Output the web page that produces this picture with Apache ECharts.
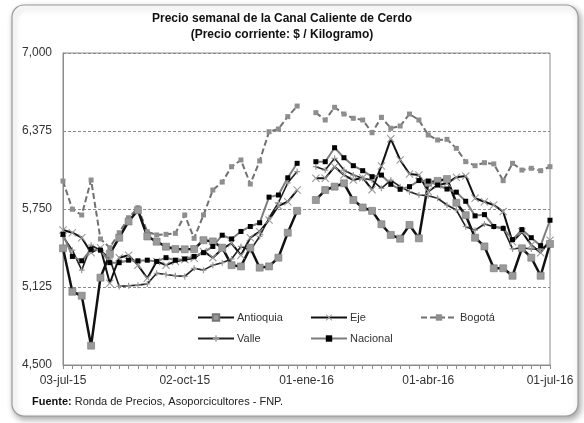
<!DOCTYPE html>
<html>
<head>
<meta charset="utf-8">
<script src="https://cdn.jsdelivr.net/npm/echarts@6/dist/echarts.min.js"></script>
<style>
html,body{margin:0;padding:0;background:#fff;}
#main{width:584px;height:423px;}
</style>
</head>
<body>
<div id="main"></div>
<script>
// semanas (viernes) del 03-jul-15 al 01-jul-16
var semanas = ["03-jul-15","10-jul-15","17-jul-15","24-jul-15","31-jul-15","07-ago-15","14-ago-15","21-ago-15","28-ago-15",
  "04-sep-15","11-sep-15","18-sep-15","25-sep-15","02-oct-15","09-oct-15","16-oct-15","23-oct-15","30-oct-15",
  "06-nov-15","13-nov-15","20-nov-15","27-nov-15","04-dic-15","11-dic-15","18-dic-15","25-dic-15",
  "01-ene-16","08-ene-16","15-ene-16","22-ene-16","29-ene-16","05-feb-16","12-feb-16","19-feb-16","26-feb-16",
  "04-mar-16","11-mar-16","18-mar-16","25-mar-16","01-abr-16","08-abr-16","15-abr-16","22-abr-16","29-abr-16",
  "06-may-16","13-may-16","20-may-16","27-may-16","03-jun-16","10-jun-16","17-jun-16","24-jun-16","01-jul-16"];

var antioquia = [5435,5087,5055,4655,5200,5390,5520,5650,5740,5530,5488,5448,5429,5427,5429,5500,5490,5440,5300,5290,5440,5280,5290,5360,5560,5735,
  null,5822,5902,5929,5956,5822,5762,5735,5628,5542,5512,5622,5515,5960,5975,5990,5800,5700,5520,5450,5275,5275,5215,5435,5360,5215,5470];
var eje = [5582,5560,5520,5400,5440,5155,5360,5380,5300,5195,5330,5300,5330,5345,5355,5410,5360,5430,5475,5380,5520,5568,5662,5775,5808,5902,
  null,5996,5996,6089,6022,5982,6001,5905,6095,6312,6143,6030,6022,5890,5942,5956,6005,6015,5836,5808,5782,5729,5488,5568,5461,5400,5500];
var bogota = [5974,5748,5702,5982,5510,5440,5560,5680,5760,5568,5542,5547,5555,5702,5515,5702,5902,5966,6089,6143,5950,6135,6369,6391,6490,6575,
  null,6522,6463,6565,6511,6477,6463,6361,6485,6397,6415,6511,6463,6343,6303,6308,6236,6129,6097,6121,6111,5977,6116,6062,6076,6057,6089];
var valle = [5530,5420,5260,5460,5420,5350,5130,5135,5140,5150,5235,5225,5215,5210,5275,5260,5300,5320,5350,5450,5420,5530,5680,5800,5960,6050,
  null,6089,6062,6156,6062,6022,5996,5982,5916,5982,5929,5889,5862,5857,5836,5782,5742,5608,5580,5630,5608,5595,5430,5440,5430,5429,5475];
var nacional = [5547,5370,5335,5427,5420,5320,5320,5340,5335,5340,5330,5360,5340,5350,5370,5400,5450,5540,5510,5570,5610,5640,5845,5862,6000,6116,
  null,6129,6129,6241,6161,6097,6057,6009,6022,5948,5908,5929,5978,5974,5942,5910,5885,5812,5695,5705,5610,5595,5505,5585,5520,5456,5660];

var xMark = 'path://M0,1L1,0L5,4L9,0L10,1L6,5L10,9L9,10L5,6L1,10L0,9L4,5Z';
var plusMark = 'path://M4,0L6,0L6,4L10,4L10,6L6,6L6,10L4,10L4,6L0,6L0,4L4,4Z';
var fuente = 'Liberation Sans, Arial, sans-serif';

function leyenda(name, left, top) {
    return {
        data: [name], left: left, top: top,
        itemWidth: 36, itemHeight: 8, itemGap: 4,
        textStyle: {fontFamily: fuente, fontSize: 11, color: '#333', padding: [0, 0, 0, -2]}
    };
}

var chart = echarts.init(document.getElementById('main'));
chart.setOption({
    animation: false,
    backgroundColor: '#fff',
    graphic: [
        {type: 'rect', z: -1, shape: {x: 12, y: 5, width: 566, height: 411, r: 12},
         style: {fill: '#fff', stroke: '#9a9a9a', lineWidth: 1.2, shadowBlur: 6, shadowColor: 'rgba(0,0,0,0.35)', shadowOffsetX: 2, shadowOffsetY: 3}},
        {type: 'text', x: 282, y: 19, style: {text: 'Precio semanal de la Canal Caliente de Cerdo', textAlign: 'center', textVerticalAlign: 'middle',
            font: 'bold 12px Liberation Sans, Arial, sans-serif', fill: '#111'}},
        {type: 'text', x: 282, y: 35, style: {text: '(Precio corriente: $ / Kilogramo)', textAlign: 'center', textVerticalAlign: 'middle',
            font: 'bold 12px Liberation Sans, Arial, sans-serif', fill: '#111'}},
        {type: 'text', x: 32, y: 402, style: {
            text: '{b|Fuente:} Ronda de Precios, Asoporcicultores - FNP.', textVerticalAlign: 'middle',
            rich: {b: {fontWeight: 'bold', fontSize: 11, fontFamily: fuente, fill: '#111'}},
            fontSize: 11, fontFamily: fuente, fill: '#222'}}
    ],
    grid: {left: 63, right: 34, top: 53, bottom: 58, show: true, borderColor: '#8c8c8c', borderWidth: 1},
    legend: [
        leyenda('Antioquia', 192, 307),
        leyenda('Eje', 305, 307),
        leyenda('Bogotá', 415, 307),
        leyenda('Valle', 192, 328),
        leyenda('Nacional', 305, 328)
    ],
    xAxis: {
        type: 'category', data: semanas, boundaryGap: false,
        axisLine: {lineStyle: {color: '#8c8c8c'}},
        axisTick: {interval: 0, length: 4, lineStyle: {color: '#8c8c8c'}},
        axisLabel: {interval: 12, fontFamily: fuente, fontSize: 12, color: '#333', margin: 10},
        splitLine: {show: false}
    },
    yAxis: {
        type: 'value', min: 4500, max: 7000, interval: 625,
        axisLine: {show: true, lineStyle: {color: '#8c8c8c'}},
        axisTick: {show: false},
        axisLabel: {fontFamily: fuente, fontSize: 12, color: '#333', margin: 11,
            formatter: function(v) { return v.toLocaleString('en-US'); }},
        splitLine: {lineStyle: {color: '#8a8a8a', type: [3, 2], width: 1}}
    },
    series: [
        {name: 'Bogotá', type: 'line', data: bogota, connectNulls: false, showAllSymbol: true, symbol: 'rect', symbolSize: 5,
         lineStyle: {color: '#707070', width: 2, type: [6, 3]}, itemStyle: {color: '#8e8e8e'}},
        {name: 'Antioquia', type: 'line', data: antioquia, connectNulls: false, showAllSymbol: true, symbol: 'rect', symbolSize: 7,
         lineStyle: {color: '#111', width: 2.5}, itemStyle: {color: '#9a9a9a', borderColor: '#777', borderWidth: 0.6}},
        {name: 'Valle', type: 'line', data: valle, connectNulls: false, showAllSymbol: true, symbol: plusMark, symbolSize: 6,
         lineStyle: {color: '#222', width: 1.6}, itemStyle: {color: '#999'}},
        {name: 'Eje', type: 'line', data: eje, connectNulls: false, showAllSymbol: true, symbol: xMark, symbolSize: 8,
         lineStyle: {color: '#111', width: 2}, itemStyle: {color: '#9c9c9c'}},
        {name: 'Nacional', type: 'line', data: nacional, connectNulls: false, showAllSymbol: true, symbol: 'rect', symbolSize: 5,
         lineStyle: {color: '#7d7d7d', width: 2}, itemStyle: {color: '#000'}}
    ]
});
</script>
</body>
</html>
